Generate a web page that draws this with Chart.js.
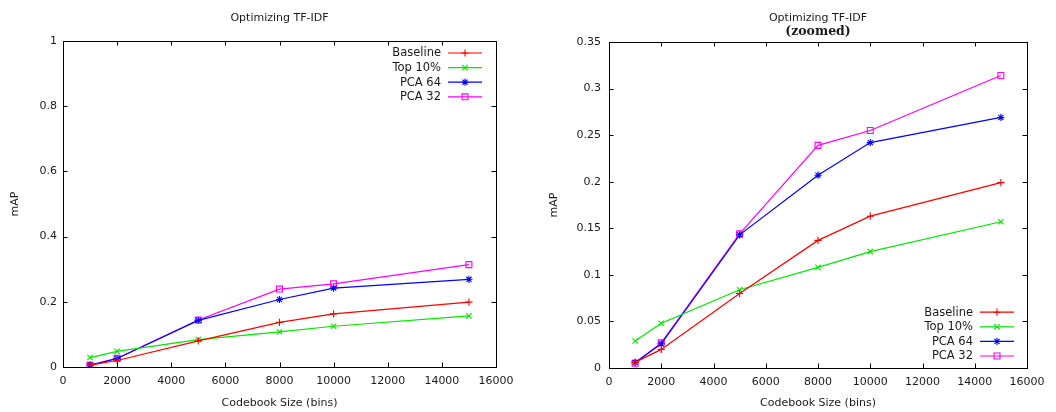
<!DOCTYPE html>
<html>
<head>
<meta charset="utf-8">
<script src="https://cdn.jsdelivr.net/npm/chart.js@4/dist/chart.umd.min.js"></script>
<style>
  html, body { margin: 0; padding: 0; background: #fff; }
  .panel { position: absolute; top: 0; width: 528px; height: 412px; }
</style>
</head>
<body>
<div class="panel" style="left:0"><canvas id="fullChart" width="528" height="412"></canvas></div>
<div class="panel" style="left:528px"><canvas id="zoomChart" width="528" height="412"></canvas></div>
<script>
// codebook sizes (x) and mAP per method (y)
const codebookSizes = [1000, 2000, 5000, 8000, 10000, 15000];
const baselineMap = [0.006, 0.020, 0.080, 0.137, 0.163, 0.199];
const top10Map    = [0.029, 0.048, 0.084, 0.108, 0.125, 0.157];
const pca64Map    = [0.006, 0.026, 0.143, 0.207, 0.242, 0.269];
const pca32Map    = [0.005, 0.027, 0.144, 0.239, 0.255, 0.314];

const seriesLabels = ['Baseline', 'Top 10%', 'PCA 64', 'PCA 32'];
const xTickStep = 2000;

const FONT = 'DejaVu Sans';
const FONT_SIZE = 11;
const TEXT = '#1a1a1a';

function points(values) {
    return codebookSizes.map((x, i) => ({ x: x, y: values[i] }));
}

function makeDatasets() {
    const styles = [
        { color: '#ff0000', point: 'cross', r: 3.6 },
        { color: '#00e600', point: 'crossRot', r: 3.8 },
        { color: '#0000ff', point: 'star', r: 3.6 },
        { color: '#ff00ff', point: 'rect', r: 4.2 }
    ];
    const values = [baselineMap, top10Map, pca64Map, pca32Map];
    return values.map((v, i) => ({
        label: seriesLabels[i],
        data: points(v),
        borderColor: styles[i].color,
        backgroundColor: 'rgba(0,0,0,0)',
        pointBorderColor: styles[i].color,
        pointBackgroundColor: 'rgba(0,0,0,0)',
        pointStyle: styles[i].point,
        pointRadius: styles[i].r,
        pointBorderWidth: 1.1,
        borderWidth: 1.2,
        tension: 0
    }));
}

// gnuplot-like frame: full border with inward ticks on all four sides
const framePlugin = {
    id: 'frame',
    afterDraw(chart) {
        const { ctx, chartArea: a, scales } = chart;
        const len = 4.5;
        ctx.save();
        ctx.strokeStyle = '#000';
        ctx.lineWidth = 1;
        ctx.beginPath();
        scales.x.ticks.forEach(t => {
            const px = Math.round(scales.x.getPixelForValue(t.value)) + 0.5;
            ctx.moveTo(px, a.bottom); ctx.lineTo(px, a.bottom - len);
            ctx.moveTo(px, a.top); ctx.lineTo(px, a.top + len);
        });
        scales.y.ticks.forEach(t => {
            const py = Math.round(scales.y.getPixelForValue(t.value)) + 0.5;
            ctx.moveTo(a.left, py); ctx.lineTo(a.left + len, py);
            ctx.moveTo(a.right, py); ctx.lineTo(a.right - len, py);
        });
        ctx.stroke();
        ctx.strokeRect(Math.round(a.left) + 0.5, Math.round(a.top) + 0.5,
            Math.round(a.right - a.left), Math.round(a.bottom - a.top));
        ctx.restore();
    }
};

// title centred over the plot area, optional second line
const plotTitlePlugin = {
    id: 'plotTitle',
    afterDraw(chart, args, opts) {
        const { ctx, chartArea: a } = chart;
        const cx = (a.left + a.right) / 2;
        ctx.save();
        ctx.fillStyle = TEXT;
        ctx.textAlign = 'center';
        ctx.textBaseline = 'middle';
        ctx.font = FONT_SIZE + 'px "' + FONT + '"';
        ctx.fillText(opts.text, cx, 18);
        if (opts.sub) {
            ctx.font = 'bold 12.5px "DejaVu Serif"';
            ctx.fillText(opts.sub, cx, 32);
        }
        ctx.restore();
    }
};

// key in gnuplot style: label right-aligned, then line sample with marker
const keyPlugin = {
    id: 'key',
    afterDraw(chart, args, opts) {
        const { ctx, chartArea: a } = chart;
        const sets = chart.data.datasets;
        const step = 14.6;
        const lineRight = a.right - opts.inset;
        const lineLeft = lineRight - 34;
        let y0 = opts.corner === 'top' ? a.top + 12 : a.bottom - 12 - step * (sets.length - 1);
        ctx.save();
        ctx.font = '11.5px "' + FONT + '"';
        ctx.textAlign = 'right';
        ctx.textBaseline = 'middle';
        sets.forEach((ds, i) => {
            const y = y0 + i * step;
            ctx.fillStyle = TEXT;
            ctx.fillText(ds.label, lineLeft - 7, y + 0.5);
            ctx.strokeStyle = ds.borderColor;
            ctx.lineWidth = 1.2;
            ctx.beginPath();
            ctx.moveTo(lineLeft, y); ctx.lineTo(lineRight, y);
            ctx.stroke();
            ctx.fillStyle = 'rgba(0,0,0,0)';
            ctx.lineWidth = 1.1;
            Chart.helpers.drawPoint(ctx, {
                pointStyle: ds.pointStyle, radius: ds.pointRadius, rotation: 0, borderWidth: 1.1
            }, (lineLeft + lineRight) / 2, y);
        });
        ctx.restore();
    }
};

function tickText(v) {
    return String(+v.toFixed(2));
}

function buildChart(canvasId, cfg) {
    return new Chart(document.getElementById(canvasId), {
        type: 'line',
        data: { datasets: makeDatasets() },
        plugins: [framePlugin, plotTitlePlugin, keyPlugin],
        options: {
            responsive: false,
            animation: false,
            layout: { autoPadding: false, padding: { top: cfg.top, right: cfg.right, left: 0, bottom: 0 } },
            plugins: {
                legend: { display: false },
                tooltip: { enabled: false },
                plotTitle: { text: 'Optimizing TF-IDF', sub: cfg.sub },
                key: { corner: cfg.keyCorner, inset: cfg.keyInset }
            },
            scales: {
                x: {
                    type: 'linear',
                    min: 0, max: 16000,
                    grid: { display: false, drawTicks: false },
                    border: { display: false },
                    ticks: {
                        stepSize: xTickStep, padding: 8, color: TEXT, maxRotation: 0,
                        font: { family: FONT, size: FONT_SIZE },
                        callback: v => String(v)
                    },
                    title: {
                        display: true, text: 'Codebook Size (bins)', color: TEXT,
                        font: { family: FONT, size: FONT_SIZE }, padding: { top: 0, bottom: 2 }
                    },
                    afterFit(scale) { scale.height = cfg.xHeight; }
                },
                y: {
                    min: 0, max: cfg.yMax,
                    grid: { display: false, drawTicks: false },
                    border: { display: false },
                    ticks: {
                        stepSize: cfg.yStep, padding: cfg.yPad, color: TEXT,
                        font: { family: FONT, size: FONT_SIZE },
                        callback: v => tickText(v)
                    },
                    title: {
                        display: true, text: 'mAP', color: TEXT,
                        font: { family: FONT, size: FONT_SIZE }, padding: { top: cfg.yTitlePad, bottom: 0 }
                    },
                    afterFit(scale) { scale.width = cfg.yWidth; }
                }
            }
        }
    });
}

// full range
buildChart('fullChart', {
    top: 41, right: 32, xHeight: 45, yWidth: 63, yMax: 1, yStep: 0.2,
    yPad: 6, yTitlePad: 9, keyCorner: 'top', keyInset: 14
});

// zoomed range
buildChart('zoomChart', {
    top: 42, right: 29, xHeight: 44, yWidth: 81, yMax: 0.35, yStep: 0.05,
    yPad: 8, yTitlePad: 20, sub: '(zoomed)', keyCorner: 'bottom', keyInset: 13
});
</script>
</body>
</html>
